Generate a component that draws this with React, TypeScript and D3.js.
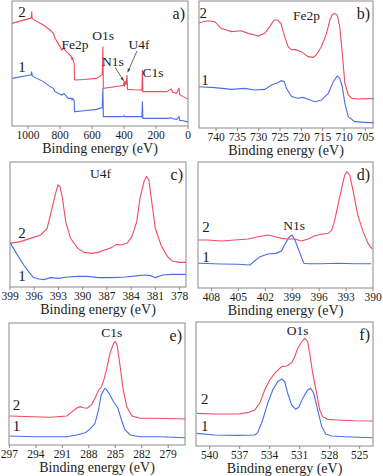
import React from "react";
import * as d3 from "d3";

// [binding energy (eV), intensity (a.u., 0-100 per panel)]
const survey2 = [
  [1100, 82.1], [987, 86.1], [980, 86.5], [977, 91.5], [974, 86], [967, 85.3], [904, 80.8],
  [862, 76.8], [842, 74.1], [835, 72], [831, 70.1], [800, 63.5], [789, 60.8], [775, 62.5],
  [765, 60], [748, 58.1], [730, 55.5], [725, 53], [722, 55], [714, 51], [711, 49], [709, 37],
  [705, 36.8], [650, 37.2], [571, 38.1], [554, 39.5], [536, 41], [532, 63.5], [529, 30.1],
  [480, 31], [425, 32], [403, 32.5], [400, 35.5], [397, 31.5], [392, 36], [386, 33],
  [381, 40.8], [378, 29.3], [340, 29], [300, 28.8], [288, 28.5], [285, 44.8], [282, 27.5],
  [200, 27.5], [133, 27.5], [105, 29.5], [95, 27], [71, 26.1], [56, 30.5], [52, 25],
  [30, 23.5], [8, 22.1], [0, 21.5],
];
const survey1 = [
  [1100, 38.1], [987, 40.8], [980, 41], [977, 43.5], [974, 40.5], [967, 39.5], [904, 35.5],
  [862, 31.5], [842, 30.1], [831, 27.5], [789, 24.8], [775, 26], [765, 24.5], [748, 22.1],
  [730, 22.1], [725, 21], [722, 22], [714, 21], [711, 20], [709, 11.5], [705, 11.5],
  [650, 12.2], [571, 13.3], [554, 14.1], [536, 14.5], [532, 30.1], [529, 7.5], [425, 7.5],
  [403, 7.6], [400, 8.3], [397, 7.5], [300, 7.5], [288, 7.3], [285, 19.5], [282, 6.1],
  [133, 6.1], [105, 6.5], [95, 5.8], [71, 5.3], [56, 7.5], [52, 4.5], [30, 4.2], [8, 3.5], [0, 3],
];

const fe2p2 = [
  [744, 82.9], [741.9, 84.5], [740.3, 83.7], [738.8, 78.5], [736.4, 75.9], [734.1, 76.6],
  [732.5, 74.5], [730.9, 73.2], [730.2, 72.4], [728.6, 74.5], [727.4, 79.8], [726.4, 85],
  [725.6, 85], [724.8, 82.4], [723.9, 71.9], [723.1, 64], [722.3, 61.4], [721.5, 61.9],
  [720, 60.1], [718.4, 56.2], [717.2, 55.6], [716.5, 57.5], [715.3, 64], [714.1, 74.5],
  [713.3, 85], [712.8, 89], [712.2, 90.3], [711.6, 89], [711, 79.8], [710.4, 58.8],
  [709.8, 35.2], [709, 26], [708.2, 23.4], [706.7, 22.8], [704.3, 23.1], [703, 23],
];
const fe2p1 = [
  [744, 32.5], [740.3, 31.8], [736.4, 30.4], [733.3, 31.2], [730.9, 29.9], [728.6, 30.4],
  [727, 33.9], [725.5, 35.7], [724.7, 37.3], [724, 36.5], [723.5, 31.2], [722.3, 24.7],
  [720.8, 23.4], [719.6, 24.1], [718.4, 22.6], [716.8, 20.7], [715.3, 22], [713.7, 27.3],
  [712.5, 36.5], [711.6, 40.9], [711, 39.1], [710.4, 32.5], [709.8, 19.4], [709, 8.9],
  [707.5, 5], [704.3, 4.2], [703, 4.2],
];

const u4f2 = [
  [399, 34.9], [397.7, 36.3], [396.5, 38.9], [395.2, 41.6], [394.4, 46.9], [393.8, 62.9],
  [393.3, 76.3], [393.05, 81.6], [392.8, 80.3], [392.5, 70.9], [392.1, 52.3], [391.5, 38.9],
  [390.6, 30.9], [389.8, 27.7], [388.9, 26.9], [388.1, 27.7], [387.3, 29.6], [386.4, 31.5],
  [385.8, 34.1], [385.2, 33.6], [384.5, 34.9], [383.9, 40.3], [383.3, 52.3], [382.9, 70.9],
  [382.4, 84.3], [382.1, 88.3], [381.8, 85.6], [381.5, 70.9], [381, 46.9], [380.3, 33.6],
  [379.5, 24.3], [378.9, 20.8], [378, 19.7], [377.2, 19.7],
];
const u4f1 = [
  [399, 35.7], [398.2, 26.9], [397.3, 17.6], [396.7, 12.3], [396.1, 7.5], [395.4, 6.4],
  [394.8, 5.9], [394, 7.5], [393, 6.9], [391.9, 8], [390.6, 8.5], [389.4, 8.5], [388.1, 7.5],
  [386.4, 7.5], [384.7, 8], [383.1, 9.1], [382.2, 9.6], [381.6, 9.1], [381, 7.5],
  [380.1, 9.6], [378.9, 10.1], [377.2, 10.1],
];

const n1s2 = [
  [409.5, 38.1], [408.4, 38.1], [406.9, 37.3], [405.4, 38.1], [403.9, 38.9], [402.8, 40.7],
  [401.7, 42.1], [400.9, 40.7], [400.2, 39.4], [399.5, 38.9], [398.7, 38.9], [398, 37.3],
  [397.2, 38.9], [396.5, 41.5], [395.75, 42.6], [395, 43.4], [394.6, 46], [394.3, 52.6],
  [393.9, 65.9], [393.5, 79.1], [393.15, 89.7], [392.9, 92.3], [392.6, 89.7], [392.2, 76.5],
  [391.7, 57.9], [391.1, 44.7], [390.55, 35.4], [390.1, 31],
];
const n1s1 = [
  [409.5, 19.6], [406.9, 19], [405, 18.8], [403.7, 18.3], [403.2, 21.4], [402.6, 24.9],
  [401.7, 27], [400.8, 27.5], [400.2, 29.4], [399.65, 36.8], [399.3, 40.7], [399, 42.1],
  [398.7, 38.1], [398.35, 31.5], [398, 24.9], [397.7, 19.6], [397.2, 19.3], [395.75, 19.3],
  [393.9, 19.6], [392, 19.3], [390.2, 19.3],
];

const c1s2 = [
  [297, 23.8], [294.3, 23.2], [292.4, 22.7], [290.5, 23.8], [289.9, 27.3], [289.4, 30.1],
  [289, 31.4], [288.6, 30.6], [288.2, 30.1], [287.7, 32.8], [287.3, 38.3], [286.9, 45.1],
  [286.6, 47.3], [286.35, 51.9], [286, 61.5], [285.6, 75.1], [285.2, 83.3], [285, 84.7],
  [284.8, 82], [284.5, 66.9], [284.1, 45.1], [283.7, 31.4], [283.1, 23.8], [282.2, 21.9],
  [280.3, 21.9], [277.1, 21.3],
];
const c1s1 = [
  [297, 7.4], [294.3, 6.8], [292.4, 6.8], [290.5, 6.8], [289.4, 8.2], [288.4, 10.1],
  [287.9, 12.8], [287.3, 17.8], [286.9, 28.7], [286.6, 41], [286.2, 46.4], [286, 45.6],
  [285.6, 41], [285.2, 35.5], [284.7, 30.1], [284.3, 20.5], [283.9, 12.3], [283.3, 8.2],
  [282.2, 6.8], [279.9, 6.8], [277.1, 6],
];

const o1s2 = [
  [541.3, 26.3], [539.5, 25.8], [537.2, 25.8], [536.2, 26.9], [535.5, 29], [535, 34.4],
  [534.5, 45.2], [534, 53.2], [533.5, 58.6], [533.1, 61.8], [532.8, 64], [532.3, 64.5],
  [531.8, 67.2], [531.5, 72], [531.2, 78.8], [530.8, 84.1], [530.5, 86.8], [530.2, 84.1],
  [530, 74.7], [529.7, 58.6], [529.3, 42.5], [529, 29], [528.7, 23.7], [528.2, 21.5],
  [527.2, 21], [525.5, 20.4], [523.7, 20.2],
];
const o1s1 = [
  [541.3, 10.2], [539.5, 8.9], [537.2, 8.6], [535.5, 8.9], [535.2, 10.8], [534.7, 21],
  [534.2, 34.4], [533.7, 45.2], [533.2, 51.9], [532.8, 54], [532.5, 51.9], [532.2, 42.5],
  [531.8, 33.1], [531.4, 29.6], [531.1, 31.2], [530.7, 38.4], [530.2, 45.2], [529.9, 46.5],
  [529.6, 42.5], [529.2, 29], [528.8, 15.6], [528.4, 9.7], [527.8, 8.1], [526.5, 7.5],
  [523.7, 6.7],
];

const ticksA = [1000, 800, 600, 400, 200, 0];
const ticksB = [740, 735, 730, 725, 720, 715, 710, 705];
const ticksC = [399, 396, 393, 390, 387, 384, 381, 378];
const ticksD = [408, 405, 402, 399, 396, 393, 390];
const ticksE = [297, 294, 291, 288, 285, 282, 279];
const ticksF = [540, 537, 534, 531, 528, 525];

const RED = "#ef4b62";
const BLUE = "#4a6ee6";
const INK = "#1c1c1c";
const FONT = "Liberation Serif, DejaVu Serif, serif";

type Pt = number[];
type Note = { text: string; e: number; v: number; size?: number };

function Panel({ x0, x1, y0, y1, domain, ticks, red, blue, notes, letter, arrows = [] }: {
  x0: number; x1: number; y0: number; y1: number; domain: number[]; ticks: number[];
  red: Pt[]; blue: Pt[]; notes: Note[]; letter: string; arrows?: number[][];
}) {
  const x = d3.scaleLinear().domain(domain).range([x0, x1]);
  const y = d3.scaleLinear().domain([0, 100]).range([y1, y0]);
  const line = d3.line<Pt>().x(d => x(d[0])).y(d => y(d[1]));
  return (
    <g fontFamily={FONT}>
      <path d={line(blue) || ""} fill="none" stroke={BLUE} strokeWidth={1.1} />
      <path d={line(red) || ""} fill="none" stroke={RED} strokeWidth={1.1} />
      <rect x={x0} y={y0} width={x1 - x0} height={y1 - y0} fill="none" stroke="#8a8a8a" strokeWidth={1} />
      {ticks.map(t => (
        <g key={t}>
          <line x1={x(t)} x2={x(t)} y1={y1} y2={y1 + 3} stroke="#8a8a8a" />
          <text x={x(t)} y={y1 + 13} textAnchor="middle" fontSize={11.5} fontFamily={FONT} fill={INK}>{t}</text>
        </g>
      ))}
      <text x={(x0 + x1) / 2} y={y1 + 27} textAnchor="middle" fontSize={14} fontFamily={FONT} fill={INK}>
        Binding energy (eV)
      </text>
      {notes.map(n => (
        <text key={n.text} x={x(n.e)} y={y(n.v)} textAnchor="middle" fontSize={n.size || 13.5}
          fontFamily={FONT} fill={INK}>
          {n.text}
        </text>
      ))}
      {arrows.map((a, i) => {
        const ax = x(a[0]), ay = y(a[1]), bx = x(a[2]), by = y(a[3]);
        const ang = Math.atan2(by - ay, bx - ax);
        const h = 4;
        const p1 = [bx - h * Math.cos(ang - 0.4), by - h * Math.sin(ang - 0.4)];
        const p2 = [bx - h * Math.cos(ang + 0.4), by - h * Math.sin(ang + 0.4)];
        return (
          <g key={i}>
            <line x1={ax} y1={ay} x2={bx} y2={by} stroke="#444" strokeWidth={0.8} />
            <path d={`M${p1[0]},${p1[1]}L${bx},${by}L${p2[0]},${p2[1]}Z`} fill="#444" />
          </g>
        );
      })}
      <text x={x1 - 3} y={y0 + 18} textAnchor="end" fontSize={16} fontFamily={FONT} fill={INK}>{letter}</text>
    </g>
  );
}

export default function App() {
  return (
    <svg width={383} height={476} style={{ position: "absolute", left: 0, top: 0 }}>
      <rect width={383} height={476} fill="#fff" />
      <Panel x0={12} x1={188} y0={1} y1={126} domain={[1100, 0]} ticks={ticksA}
        red={survey2} blue={survey1} letter="a)"
        notes={[
          { text: "2", e: 1037, v: 87, size: 15 }, { text: "1", e: 1037, v: 43, size: 15 },
          { text: "Fe2p", e: 706, v: 62 }, { text: "O1s", e: 531, v: 69 },
          { text: "N1s", e: 469, v: 48 }, { text: "U4f", e: 306, v: 62 }, { text: "C1s", e: 219, v: 39 },
        ]}
        arrows={[[456, 47, 402, 36], [319, 60, 377, 43]]} />
      <Panel x0={199} x1={373} y0={1} y1={128} domain={[744, 703.2]} ticks={ticksB}
        red={fe2p2} blue={fe2p1} letter="b)"
        notes={[
          { text: "2", e: 743, v: 86.6, size: 15 }, { text: "1", e: 742.6, v: 34, size: 15 },
          { text: "Fe2p", e: 718.8, v: 85 },
        ]} />
      <Panel x0={10} x1={186} y0={162} y1={287} domain={[399, 377.2]} ticks={ticksC}
        red={u4f2} blue={u4f1} letter="c)"
        notes={[
          { text: "2", e: 397.5, v: 39.2, size: 15 }, { text: "1", e: 397.5, v: 4.8, size: 15 },
          { text: "U4f", e: 387.8, v: 87.2 },
        ]} />
      <Panel x0={198} x1={373} y0={162} y1={288} domain={[409.5, 390]} ticks={ticksD}
        red={n1s2} blue={n1s1} letter="d)"
        notes={[
          { text: "2", e: 408.6, v: 44.8, size: 15 }, { text: "1", e: 408.6, v: 21, size: 15 },
          { text: "N1s", e: 398.8, v: 46 },
        ]} />
      <Panel x0={9} x1={185} y0={323} y1={445} domain={[297.05, 277.1]} ticks={ticksE}
        red={c1s2} blue={c1s1} letter="e)"
        notes={[
          { text: "2", e: 296.2, v: 28.7, size: 15 }, { text: "1", e: 296.2, v: 11.5, size: 15 },
          { text: "C1s", e: 285.4, v: 88.9 },
        ]} />
      <Panel x0={196} x1={373} y0={322} y1={446} domain={[541.37, 523.67]} ticks={ticksF}
        red={o1s2} blue={o1s1} letter="f)"
        notes={[
          { text: "2", e: 540.5, v: 33.9, size: 15 }, { text: "1", e: 540.5, v: 12.1, size: 15 },
          { text: "O1s", e: 531.2, v: 89.5 },
        ]} />
    </svg>
  );
}
